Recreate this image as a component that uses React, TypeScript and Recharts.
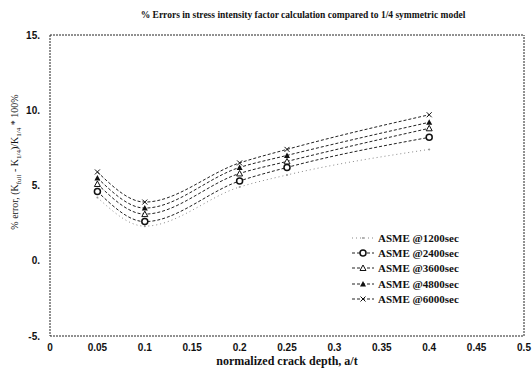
import { LineChart, Line, XAxis, YAxis, ReferenceLine } from 'recharts';

const crackDepth = [0.05, 0.1, 0.2, 0.25, 0.4];
const asme1200 = [4.2, 2.3, 4.9, 5.7, 7.4];
const asme2400 = [4.6, 2.6, 5.3, 6.2, 8.2];
const asme3600 = [5.1, 3.1, 5.8, 6.6, 8.8];
const asme4800 = [5.5, 3.5, 6.2, 7.0, 9.2];
const asme6000 = [5.9, 3.9, 6.5, 7.4, 9.7];

const xTicks = [0, 0.05, 0.1, 0.15, 0.2, 0.25, 0.3, 0.35, 0.4, 0.45, 0.5];
const yTicks = [-5, 0, 5, 10, 15];

const series = [
  { key: 'a1200', name: 'ASME @1200sec', marker: 'dot', dash: '1 3', color: '#888' },
  { key: 'a2400', name: 'ASME @2400sec', marker: 'circle', dash: '3 2', color: '#222' },
  { key: 'a3600', name: 'ASME @3600sec', marker: 'triangleOpen', dash: '3 2', color: '#222' },
  { key: 'a4800', name: 'ASME @4800sec', marker: 'triangle', dash: '3 2', color: '#222' },
  { key: 'a6000', name: 'ASME @6000sec', marker: 'cross', dash: '3 2', color: '#222' },
];

const data = crackDepth.map((x, i) => ({
  x,
  a1200: asme1200[i],
  a2400: asme2400[i],
  a3600: asme3600[i],
  a4800: asme4800[i],
  a6000: asme6000[i],
}));

const serif = '"Liberation Serif", "DejaVu Serif", serif';
const sans = '"Liberation Sans", Arial, sans-serif';
const frame = { stroke: '#222', strokeDasharray: '2 1', strokeWidth: 1 };

const Marker = ({ type, cx, cy }: { type: string; cx: number; cy: number }) => {
  if (type === 'dot') return <circle cx={cx} cy={cy} r={1} fill="#999" />;
  if (type === 'circle') return <circle cx={cx} cy={cy} r={3} fill="#fff" stroke="#111" strokeWidth={1.5} />;
  if (type === 'triangleOpen')
    return <path d={`M${cx},${cy - 3}L${cx + 3},${cy + 2.5}L${cx - 3},${cy + 2.5}Z`} fill="#fff" stroke="#111" />;
  if (type === 'triangle')
    return <path d={`M${cx},${cy - 3}L${cx + 3},${cy + 2.5}L${cx - 3},${cy + 2.5}Z`} fill="#111" />;
  return (
    <path d={`M${cx - 2.5},${cy - 2.5}L${cx + 2.5},${cy + 2.5}M${cx + 2.5},${cy - 2.5}L${cx - 2.5},${cy + 2.5}`} stroke="#111" />
  );
};

const ChartLegend = () => (
  <div
    style={{
      position: 'absolute',
      left: 352,
      top: 230,
      fontFamily: serif,
      fontWeight: 'bold',
      fontSize: 11,
      color: '#111',
    }}
  >
    {series.map((s) => (
      <div key={s.key} style={{ display: 'flex', alignItems: 'center', height: 15.3 }}>
        <svg width={22} height={10} style={{ marginRight: 4 }}>
          <line x1={0} y1={5} x2={22} y2={5} stroke={s.color} strokeDasharray={s.dash} />
          <Marker type={s.marker} cx={11} cy={5} />
        </svg>
        {s.name}
      </div>
    ))}
  </div>
);

const YLabel = () => (
  <text transform="translate(18,162) rotate(-90)" textAnchor="middle" fontFamily={serif} fontSize={10} fill="#111">
    % error, (K<tspan fontSize={7} dy={3}>full</tspan>
    <tspan dy={-3}> - K</tspan>
    <tspan fontSize={7} dy={3}>1/4</tspan>
    <tspan dy={-3}>)/K</tspan>
    <tspan fontSize={7} dy={3}>1/4</tspan>
    <tspan dy={-3}> * 100%</tspan>
  </text>
);

export default function App() {
  return (
    <div style={{ position: 'absolute', left: 0, top: 0, width: 532, height: 374, background: '#fff' }}>
      <LineChart width={532} height={374} data={data} margin={{ top: 35, right: 8, left: 10, bottom: 8 }}>
        <text x={303} y={18} textAnchor="middle" fontFamily={serif} fontWeight="bold" fontSize={9.5} fill="#111">
          % Errors in stress intensity factor calculation compared to 1/4 symmetric model
        </text>
        <XAxis
          dataKey="x"
          type="number"
          domain={[0, 0.5]}
          ticks={xTicks}
          tickLine={false}
          axisLine={frame}
          tick={{ fontSize: 10, fill: '#111', fontFamily: sans, fontWeight: 'bold' }}
          height={30}
          label={{
            value: 'normalized crack depth, a/t',
            position: 'insideBottom',
            offset: 1,
            fontFamily: serif,
            fontWeight: 'bold',
            fontSize: 12,
            fill: '#111',
          }}
        />
        <YAxis
          type="number"
          domain={[-5, 15]}
          ticks={yTicks}
          tickLine={false}
          axisLine={frame}
          width={40}
          tickFormatter={(v: number) => `${v}.`}
          tick={{ fontSize: 10, fill: '#111', fontFamily: sans, fontWeight: 'bold', dx: -2 }}
        />
        <ReferenceLine y={15} {...frame} />
        <ReferenceLine x={0.5} {...frame} />
        {series.map((s) => (
          <Line
            key={s.key}
            type="monotone"
            dataKey={s.key}
            name={s.name}
            stroke={s.color}
            strokeWidth={1}
            strokeDasharray={s.dash}
            dot={(p: any) => <Marker key={`${s.key}-${p.index}`} type={s.marker} cx={p.cx} cy={p.cy} />}
            isAnimationActive={false}
          />
        ))}
        <YLabel />
      </LineChart>
      <ChartLegend />
    </div>
  );
}
